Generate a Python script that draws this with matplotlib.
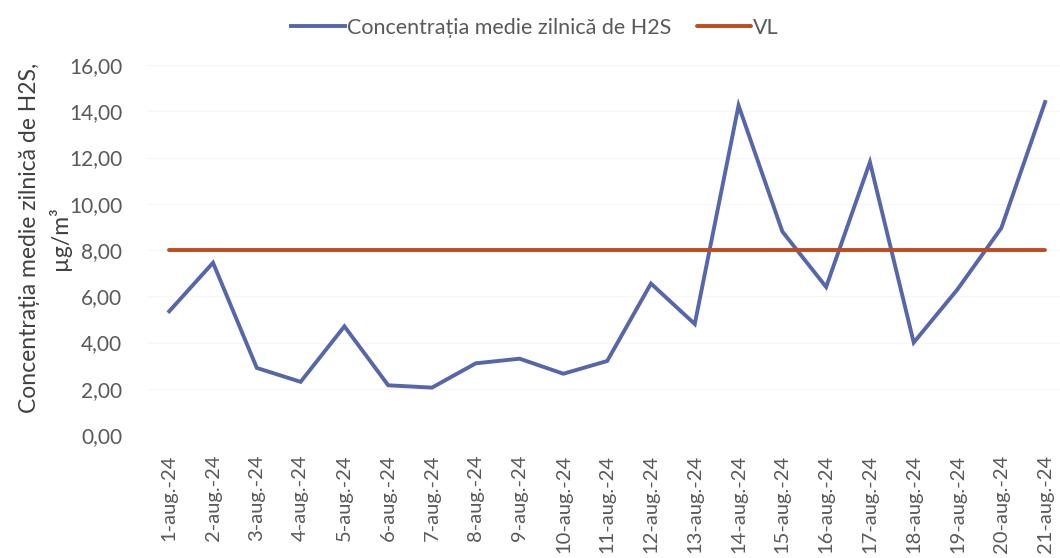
import matplotlib
matplotlib.use("Agg")
import matplotlib.pyplot as plt
from matplotlib.ticker import FuncFormatter

plt.rcParams['font.family'] = ['Lato', 'DejaVu Sans']

# zilele din august 2024
zile = [str(d) + "-aug.-24" for d in range(1, 22)]
h2s = [5.35, 7.45, 2.90, 2.30, 4.70, 2.15, 2.05, 3.10, 3.30, 2.65, 3.20,
       6.55, 4.80, 14.25, 8.80, 6.40, 11.80, 4.00, 6.30, 8.95, 14.40]
vl = [8.0] * len(zile)

fig = plt.figure(figsize=(10.6, 5.58), dpi=100)
ax = fig.add_axes([0.139, 0.2204, 0.861, 0.6631])

x = list(range(len(zile)))
ax.plot(x, h2s, color='#5566aa', lw=2.8, solid_joinstyle='miter',
        label="Concentrația medie zilnică de H2S")
ax.plot(x, vl, color='#c04a1e', lw=2.8, solid_capstyle='round', label="VL")

ax.set_ylim(0, 16)
ax.set_yticks(range(0, 17, 2))
ax.yaxis.set_major_formatter(FuncFormatter(lambda v, p: ("%.2f" % v).replace(".", ",")))
ax.set_xlim(-0.5, 20.34)
ax.set_xticks(x)
ax.set_xticklabels(zile, rotation=90, va='top', ha='center')
ax.tick_params(axis='y', length=0, labelsize=15, labelcolor='#595959', pad=18)
ax.tick_params(axis='x', length=0, labelsize=14.5, labelcolor='#595959', pad=14)
ax.grid(axis='y', color='#f7f7f7', lw=0.8)
ax.set_axisbelow(True)
for s in ax.spines.values():
    s.set_visible(False)

ax.set_ylabel("Concentrația medie zilnică de H2S,\nµg/m³", fontsize=16.5,
              color='#404040', linespacing=1.4)
ax.yaxis.set_label_coords(-0.084, 0.533)

ax.legend(loc='upper center', bbox_to_anchor=(0.425, 1.18), ncol=2, frameon=False,
          fontsize=15.5, labelcolor='#595959', handlelength=2.5, handletextpad=0.1,
          columnspacing=1.2)

fig.savefig("out.png", dpi=100)
